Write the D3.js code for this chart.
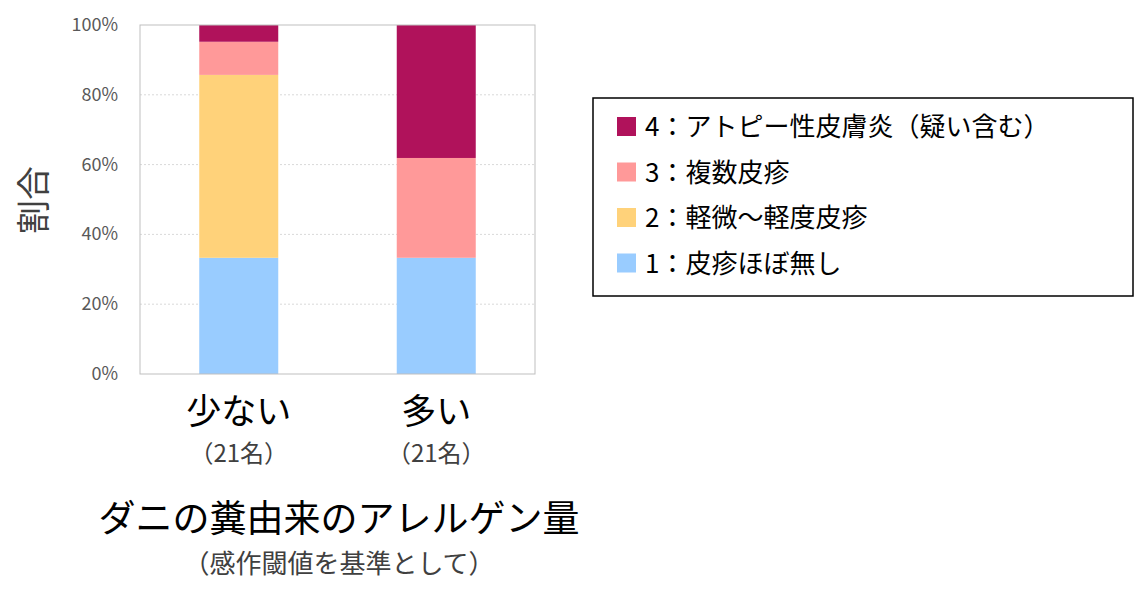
<!DOCTYPE html>
<html><head><meta charset="utf-8">
<script src="https://cdn.jsdelivr.net/npm/d3@7"></script>
<style>body{margin:0;background:#fff;font-family:"Noto Sans CJK JP","Noto Sans",sans-serif;}</style>
</head><body>
<svg id="chart" width="1135" height="602"></svg>
<script>
// data
const categories = ["少ない", "多い"];
const counts = ["（21名）", "（21名）"];
const seriesNames = ["1：皮疹ほぼ無し", "2：軽微～軽度皮疹", "3：複数皮疹", "4：アトピー性皮膚炎（疑い含む）"];
const seriesColors = ["#99ccff", "#ffd27a", "#ff9999", "#b0125b"];
const values1 = [33.3, 33.3];   // 皮疹ほぼ無し
const values2 = [52.4, 0];      // 軽微～軽度
const values3 = [9.5, 28.6];    // 複数皮疹
const values4 = [4.8, 38.1];    // アトピー性皮膚炎
const yTicks = [0, 20, 40, 60, 80, 100];

const svg = d3.select("#chart");
const plot = {left: 140, right: 535, top: 25, bottom: 374};

const x = d3.scaleBand().domain(categories).range([plot.left, plot.right]).paddingInner(0.6).paddingOuter(0.3);
const y = d3.scaleLinear().domain([0, 100]).range([plot.bottom, plot.top]);

// gridlines
svg.append("g").selectAll("line").data(yTicks.slice(1, -1)).join("line")
    .attr("x1", plot.left).attr("x2", plot.right)
    .attr("y1", d => y(d)).attr("y2", d => y(d))
    .attr("stroke", "#d9d9d9").attr("stroke-dasharray", "2,2");

// stacks
const rows = categories.map((c, i) => ({cat: c, s0: values1[i], s1: values2[i], s2: values3[i], s3: values4[i]}));
const stacked = d3.stack().keys(["s0", "s1", "s2", "s3"])(rows);
svg.append("g").selectAll("g").data(stacked).join("g")
    .attr("fill", (d, i) => seriesColors[i])
    .selectAll("rect").data(d => d).join("rect")
    .attr("x", d => x(d.data.cat))
    .attr("width", x.bandwidth())
    .attr("y", d => y(d[1]))
    .attr("height", d => y(d[0]) - y(d[1]));

// plot border
svg.append("rect").attr("x", plot.left).attr("y", plot.top)
    .attr("width", plot.right - plot.left).attr("height", plot.bottom - plot.top)
    .attr("fill", "none").attr("stroke", "#bfbfbf");

// y axis labels
svg.append("g").selectAll("text").data(yTicks).join("text")
    .attr("x", 118).attr("y", d => y(d) + 6)
    .attr("text-anchor", "end").attr("font-size", 18).attr("fill", "#595959")
    .text(d => d + "%");

svg.append("text").attr("transform", "translate(46,200) rotate(-90)")
    .attr("text-anchor", "middle").attr("font-size", 34).attr("fill", "#404040").text("割合");

// x labels
categories.forEach((c, i) => {
    const cx = x(c) + x.bandwidth() / 2;
    svg.append("text").attr("x", cx).attr("y", 424).attr("text-anchor", "middle")
        .attr("font-size", 35).attr("fill", "#000").text(c);
    svg.append("text").attr("x", cx).attr("y", 462).attr("text-anchor", "middle")
        .attr("font-size", 24).attr("fill", "#404040").text(counts[i]);
});

svg.append("text").attr("x", 339).attr("y", 532).attr("text-anchor", "middle")
    .attr("font-size", 37).attr("fill", "#000").text("ダニの糞由来のアレルゲン量");
svg.append("text").attr("x", 339).attr("y", 573).attr("text-anchor", "middle")
    .attr("font-size", 26).attr("fill", "#404040").text("（感作閾値を基準として）");

// legend
svg.append("rect").attr("x", 593).attr("y", 98).attr("width", 540).attr("height", 198)
    .attr("fill", "#fff").attr("stroke", "#000").attr("stroke-width", 1.5);
const legendOrder = [3, 2, 1, 0];
const lg = svg.append("g").selectAll("g").data(legendOrder).join("g")
    .attr("transform", (d, i) => `translate(617,${127 + i * 45.5})`);
lg.append("rect").attr("x", 0).attr("y", -10).attr("width", 19).attr("height", 19)
    .attr("fill", d => seriesColors[d]);
lg.append("text").attr("x", 28).attr("y", 9).attr("font-size", 26).attr("fill", "#000")
    .text(d => seriesNames[d]);
</script>
</body></html>
